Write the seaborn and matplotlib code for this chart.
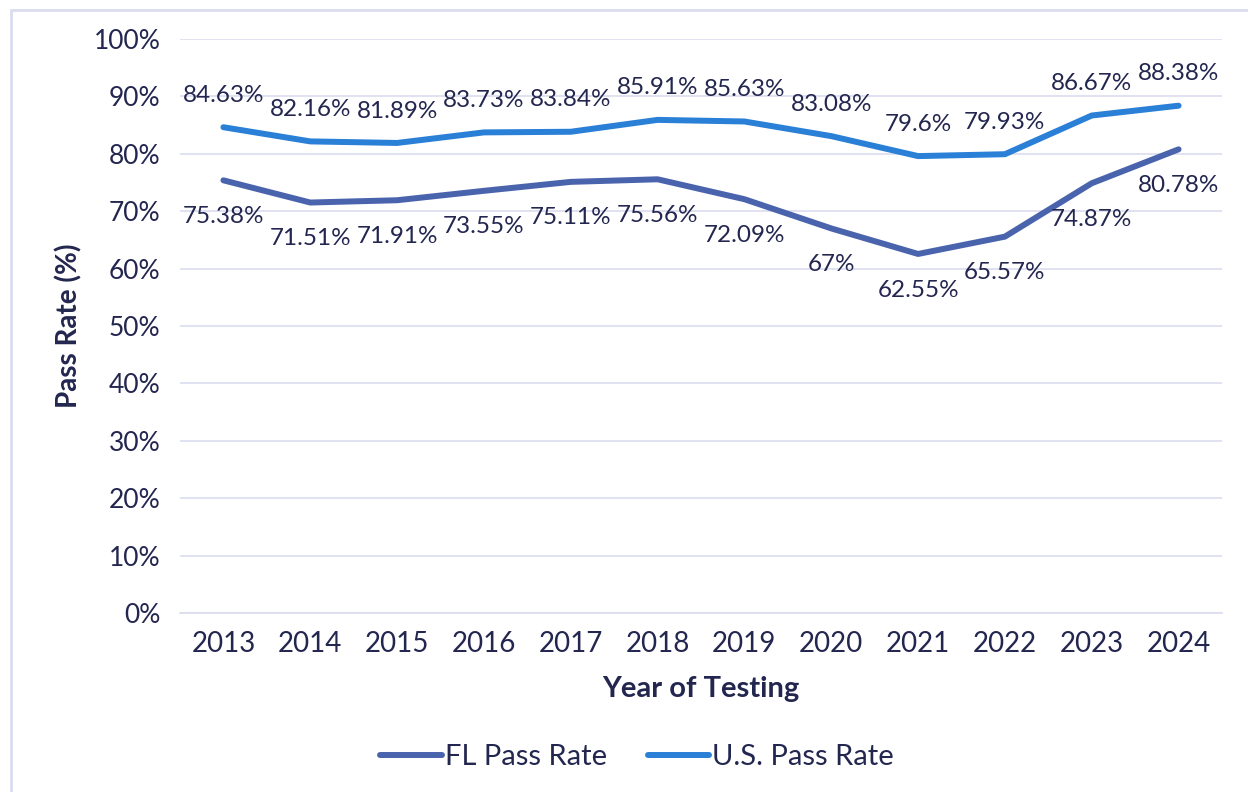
import numpy as np
import pandas as pd
import matplotlib
matplotlib.use("Agg")
import matplotlib.pyplot as plt
import seaborn as sns
from matplotlib.patches import Rectangle

years = ["2013", "2014", "2015", "2016", "2017", "2018", "2019", "2020", "2021", "2022", "2023", "2024"]
fl_rate = [75.38, 71.51, 71.91, 73.55, 75.11, 75.56, 72.09, 67, 62.55, 65.57, 74.87, 80.78]
us_rate = [84.63, 82.16, 81.89, 83.73, 83.84, 85.91, 85.63, 83.08, 79.6, 79.93, 86.67, 88.38]

TEXT = "#23264f"
GRID = "#dadcef"
FL_COLOR = "#4a63ad"
US_COLOR = "#2a7fd6"

sns.set_theme(style="white")
plt.rcParams["font.family"] = ["Lato", "DejaVu Sans"]

df = pd.DataFrame({"Year": years, "FL Pass Rate": fl_rate, "U.S. Pass Rate": us_rate})
long = df.melt(id_vars="Year", var_name="Series", value_name="Rate")

fig = plt.figure(figsize=(12.48, 7.92), dpi=100)
ax = fig.add_axes([180 / 1248, 1 - 613 / 792, 1042 / 1248, 574 / 792])

sns.lineplot(data=long, x="Year", y="Rate", hue="Series", ax=ax,
             palette={"FL Pass Rate": FL_COLOR, "U.S. Pass Rate": US_COLOR},
             linewidth=4.3, solid_capstyle="round", sort=False)

ax.set_xlim(-0.5, len(years) - 0.5)
ax.set_ylim(0, 100)
ax.set_yticks(np.arange(0, 101, 10))
ax.set_yticklabels([f"{v}%" for v in range(0, 101, 10)])
ax.grid(axis="y", color=GRID, linewidth=1.2)
ax.set_axisbelow(True)

# minor ticks at category boundaries
ax.set_xticks(np.arange(-0.5, len(years), 1), minor=True)
ax.tick_params(axis="x", which="major", length=0, pad=13, labelsize=20, labelcolor=TEXT)
ax.tick_params(axis="x", which="minor", length=7, color=GRID, width=1.2, direction="out")
ax.tick_params(axis="y", length=0, pad=14, labelsize=19, labelcolor=TEXT)

for s in ["top", "right", "left"]:
    ax.spines[s].set_visible(False)
ax.spines["bottom"].set_color(GRID)
ax.spines["bottom"].set_linewidth(1.2)

ax.set_xlabel("Year of Testing", fontsize=21, fontweight="bold", color=TEXT, labelpad=14)
ax.set_ylabel("Pass Rate (%)", fontsize=20, fontweight="bold", color=TEXT, labelpad=8)

def fmt(v):
    return f"{v:g}%"

for i, (f, u) in enumerate(zip(fl_rate, us_rate)):
    ax.annotate(fmt(u), (i, u), xytext=(0, 23), textcoords="offset points",
                ha="center", va="center", fontsize=17.5, color=TEXT)
    ax.annotate(fmt(f), (i, f), xytext=(0, -26), textcoords="offset points",
                ha="center", va="center", fontsize=17.5, color=TEXT)

handles, labels = ax.get_legend_handles_labels()
ax.legend_.remove()
leg = fig.legend(handles, labels, loc="center", bbox_to_anchor=(637 / 1248, 1 - 757 / 792),
                 ncol=2, frameon=False, fontsize=21, handlelength=2.1,
                 handletextpad=0.1, columnspacing=1.4)
for t in leg.get_texts():
    t.set_color(TEXT)
for line in leg.get_lines():
    line.set_linewidth(4.3)
    line.set_solid_capstyle("round")

fig.patches.append(Rectangle((11 / 1248, -0.01), 1.05, 1 - 10 / 792 + 0.01,
                             transform=fig.transFigure, fill=False,
                             edgecolor=GRID, linewidth=2))

fig.savefig("out.png", dpi=100, facecolor="white")
